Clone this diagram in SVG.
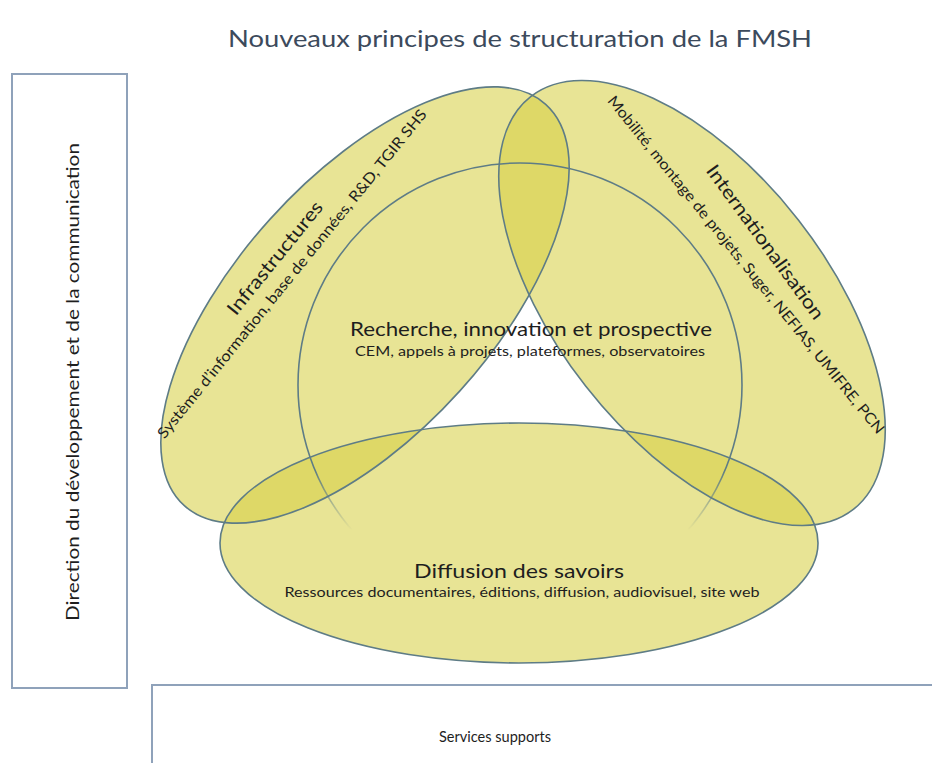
<svg xmlns="http://www.w3.org/2000/svg" width="932" height="763" viewBox="0 0 932 763">
<style>
.fill{fill:rgb(214,207,69);fill-opacity:0.57;stroke:none}
.edge{fill:none;stroke:#5e7c86;stroke-width:1.6}
.box{fill:#ffffff;stroke:#8fa2ba;stroke-width:2}
.t{font-family:Lato,"Open Sans","Liberation Sans",sans-serif;fill:#1e1e1e}
.title{font-family:Lato,"Open Sans","Liberation Sans",sans-serif;fill:#3c4a5c}
</style>
<defs>
<linearGradient id="fade" gradientUnits="userSpaceOnUse" x1="0" y1="470" x2="0" y2="530">
<stop offset="0" stop-color="#ffffff"/>
<stop offset="1" stop-color="#000000"/>
</linearGradient>
<mask id="circleMask" maskUnits="userSpaceOnUse" x="0" y="0" width="932" height="763">
<rect x="0" y="0" width="932" height="763" fill="url(#fade)"/>
</mask>
</defs>
<rect width="932" height="763" fill="#ffffff"/>
<g id="title">
<text class="title" x="520" y="47" font-size="23" text-anchor="middle" textLength="584" lengthAdjust="spacingAndGlyphs">Nouveaux principes de structuration de la FMSH</text>
</g>
<g id="direction">
<rect class="box" x="12" y="74" width="115" height="614"/>
<text class="t" transform="translate(79 382) rotate(-90)" x="0" y="0" font-size="18" text-anchor="middle" textLength="478" lengthAdjust="spacingAndGlyphs">Direction du développement et de la communication</text>
</g>
<g id="services">
<rect class="box" x="152" y="685" width="800" height="100"/>
<text class="t" x="495" y="742" font-size="16" text-anchor="middle" textLength="112" lengthAdjust="spacingAndGlyphs">Services supports</text>
</g>
<g id="fills">
<ellipse class="fill" cx="365" cy="305" rx="270" ry="128" transform="rotate(-48 365 305)"/>
<ellipse class="fill" cx="692" cy="303" rx="262" ry="135" transform="rotate(52 692 303)"/>
<ellipse class="fill" cx="519" cy="543" rx="299" ry="120"/>
</g>
<g id="infrastructures">
<ellipse class="edge" cx="365" cy="305" rx="270" ry="128" transform="rotate(-48 365 305)"/>
<text class="t" transform="translate(280 262) rotate(-51)" font-size="19" text-anchor="middle" textLength="140" lengthAdjust="spacingAndGlyphs">Infrastructures</text>
<text class="t" transform="translate(296 277) rotate(-51)" font-size="15" text-anchor="middle" textLength="418" lengthAdjust="spacingAndGlyphs">Système d’information, base de données, R&amp;D, TGIR SHS</text>
</g>
<g id="internationalisation">
<ellipse class="edge" cx="692" cy="303" rx="262" ry="135" transform="rotate(52 692 303)"/>
<text class="t" transform="translate(760 246) rotate(54)" font-size="19" text-anchor="middle" textLength="186" lengthAdjust="spacingAndGlyphs">Internationalisation</text>
<text class="t" transform="translate(742 268) rotate(51)" font-size="15" text-anchor="middle" textLength="430" lengthAdjust="spacingAndGlyphs">Mobilité, montage de projets, Suger, NEFIAS, UMIFRE, PCN</text>
</g>
<g id="recherche">
<circle class="edge" cx="520" cy="385" r="222" mask="url(#circleMask)"/>
<text class="t" x="531" y="336" font-size="20" text-anchor="middle" textLength="362" lengthAdjust="spacingAndGlyphs">Recherche, innovation et prospective</text>
<text class="t" x="530" y="356" font-size="13" text-anchor="middle" textLength="350" lengthAdjust="spacingAndGlyphs">CEM, appels à projets, plateformes, observatoires</text>
</g>
<g id="diffusion">
<ellipse class="edge" cx="519" cy="543" rx="299" ry="120"/>
<text class="t" x="519" y="578" font-size="20" text-anchor="middle" textLength="210" lengthAdjust="spacingAndGlyphs">Diffusion des savoirs</text>
<text class="t" x="522" y="597" font-size="13" text-anchor="middle" textLength="475" lengthAdjust="spacingAndGlyphs">Ressources documentaires, éditions, diffusion, audiovisuel, site web</text>
</g>
<g id="connectors"/>
</svg>
